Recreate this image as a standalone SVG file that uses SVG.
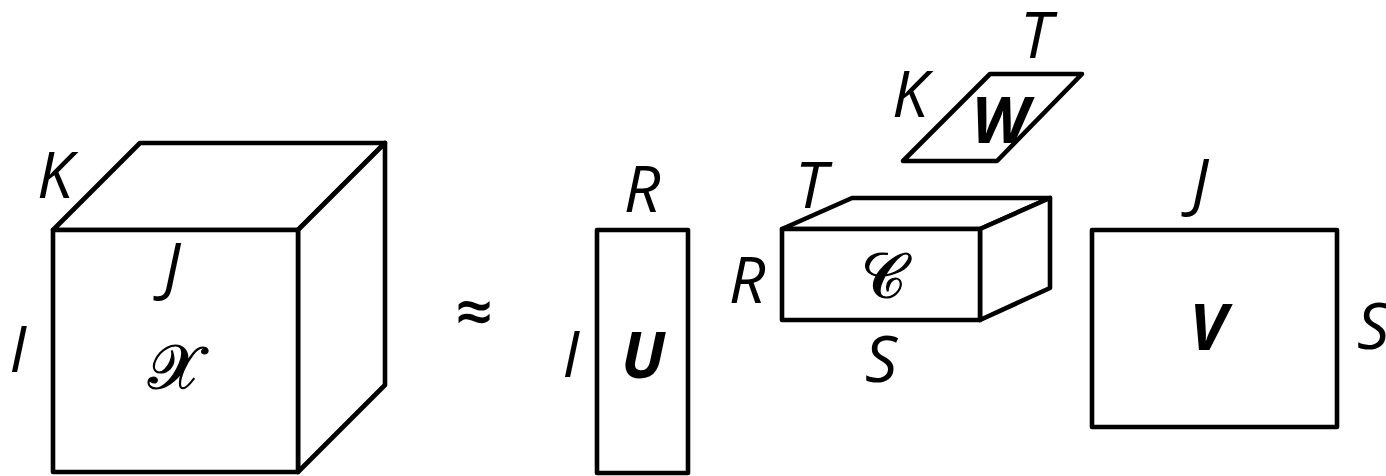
<svg xmlns="http://www.w3.org/2000/svg" width="1386" height="476" viewBox="0 0 1386 476">
<style>
.s{fill:#fff;stroke:#000;stroke-width:4.6;stroke-linejoin:round}
.l{font-family:"Open Sans","Noto Sans","DejaVu Sans",sans-serif;font-style:italic;font-weight:500;font-size:64px;fill:#000;text-anchor:middle}
.b{font-family:"Open Sans","Noto Sans","DejaVu Sans",sans-serif;font-style:italic;font-weight:bold;font-size:64px;fill:#000;text-anchor:middle}
.m{font-family:"DejaVu Serif","Liberation Serif","Noto Sans",serif;font-size:62px;fill:#000;stroke:#000;stroke-width:1.2;text-anchor:middle}
</style>
<rect width="1386" height="476" fill="#fff"/>
<g id="X">
<path class="s" d="M53,230 L140,143 L385,143 L298,230 Z"/>
<path class="s" d="M298,230 L385,143 L385,385 L298,472 Z"/>
<rect class="s" x="53" y="230" width="245" height="242"/>
<text class="l" x="55" y="198">K</text>
<text class="l" x="172" y="289">J</text>
<text class="l" x="18" y="372">I</text>
<text class="m" x="174" y="388">𝒳</text>
</g>
<g id="approx"><text class="l" x="474" y="335" style="font-style:normal;font-weight:600;font-size:65px">≈</text></g>
<g id="U">
<rect class="s" x="597" y="230" width="91" height="243"/>
<text class="l" x="642" y="212">R</text>
<text class="l" x="571" y="377">I</text>
<text class="b" x="643" y="378">U</text>
</g>
<g id="C">
<path class="s" d="M782,229 L852,198 L1050,198 L980,229 Z"/>
<path class="s" d="M980,229 L1050,198 L1050,288 L980,320 Z"/>
<rect class="s" x="782" y="229" width="198" height="91"/>
<text class="l" x="811" y="208">T</text>
<text class="l" x="747" y="303">R</text>
<text class="m" x="883" y="297">𝒞</text>
<text class="l" x="881" y="382">S</text>
</g>
<g id="W">
<path class="s" d="M990,74 L1082,74 L997,161 L903,161 Z"/>
<text class="l" x="910" y="117">K</text>
<text class="b" x="1000" y="143">W</text>
<text class="l" x="1036" y="58">T</text>
</g>
<g id="V">
<rect class="s" x="1092" y="230" width="245" height="197"/>
<text class="l" x="1200" y="205">J</text>
<text class="b" x="1208" y="350">V</text>
<text class="l" x="1357" y="349" style="text-anchor:start">S</text>
</g>
<g id="connectors"></g>
</svg>
